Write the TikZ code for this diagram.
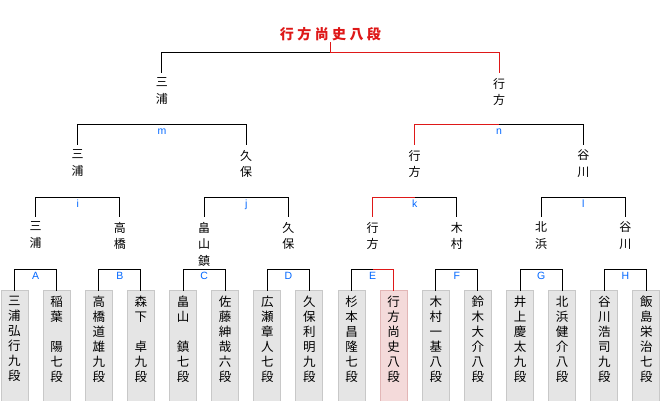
\documentclass[tikz,border=0pt]{standalone}
\usepackage{fontspec}
\setmainfont{Liberation Sans}
\newfontfamily\jp{Noto Sans CJK JP}
\usetikzlibrary{positioning, calc}

\definecolor{winred}{RGB}{222,24,24}
\definecolor{tagblue}{RGB}{0,102,255}
\definecolor{boxbg}{RGB}{229,229,229}
\definecolor{boxln}{RGB}{200,200,200}
\definecolor{pinkbg}{RGB}{244,218,218}
\definecolor{pinkln}{RGB}{226,182,182}

\begin{document}
\begin{tikzpicture}[x=1pt, y=-1pt, line width=1pt, node distance=15.13pt,
    plr/.style={draw=boxln, fill=boxbg, minimum width=27pt, inner xsep=0pt,
                inner ysep=5.5pt, outer sep=0pt, text depth=28pt,
                align=center, font=\jp\fontsize{12.5}{15}\selectfont},
    plrwin/.style={plr, draw=pinkln, fill=pinkbg},
    pname/.style={anchor=north, inner xsep=0pt, inner ysep=5.5pt, outer sep=0pt,
                  align=center, font=\jp\fontsize{12}{16.5}\selectfont},
    grp/.style={anchor=north, text=tagblue, inner xsep=1pt, inner ysep=2.5pt,
                outer sep=0pt, text height=7.5pt, text depth=2pt,
                font=\fontsize{10.5}{12}\selectfont},
    win/.style={draw=winred}]
  \useasboundingbox (0,0) rectangle (660,400);

  % players
  \node[plr, anchor=north] (p1) at (14.5,290.5) {三\\浦\\弘\\行\\九\\段};
  \node[plr, right=of p1.north east, anchor=north west] (p2) {稲\\葉\\　\\陽\\七\\段};
  \node[plr, right=of p2.north east, anchor=north west] (p3) {高\\橋\\道\\雄\\九\\段};
  \node[plr, right=of p3.north east, anchor=north west] (p4) {森\\下\\　\\卓\\九\\段};
  \node[plr, right=of p4.north east, anchor=north west] (p5) {畠\\山\\　\\鎮\\七\\段};
  \node[plr, right=of p5.north east, anchor=north west] (p6) {佐\\藤\\紳\\哉\\六\\段};
  \node[plr, right=of p6.north east, anchor=north west] (p7) {広\\瀬\\章\\人\\七\\段};
  \node[plr, right=of p7.north east, anchor=north west] (p8) {久\\保\\利\\明\\九\\段};
  \node[plr, right=of p8.north east, anchor=north west] (p9) {杉\\本\\昌\\隆\\七\\段};
  \node[plrwin, right=of p9.north east, anchor=north west] (p10) {行\\方\\尚\\史\\八\\段};
  \node[plr, right=of p10.north east, anchor=north west] (p11) {木\\村\\一\\基\\八\\段};
  \node[plr, right=of p11.north east, anchor=north west] (p12) {鈴\\木\\大\\介\\八\\段};
  \node[plr, right=of p12.north east, anchor=north west] (p13) {井\\上\\慶\\太\\九\\段};
  \node[plr, right=of p13.north east, anchor=north west] (p14) {北\\浜\\健\\介\\八\\段};
  \node[plr, right=of p14.north east, anchor=north west] (p15) {谷\\川\\浩\\司\\九\\段};
  \node[plr, right=of p15.north east, anchor=north west] (p16) {飯\\島\\栄\\治\\七\\段};

  % first round
  \node[grp] (ga) at ($(p1.north)!.5!(p2.north)+(0,-21)$) {A};
  \node[grp] (gb) at ($(p3.north)!.5!(p4.north)+(0,-21)$) {B};
  \node[grp] (gc) at ($(p5.north)!.5!(p6.north)+(0,-21)$) {C};
  \node[grp] (gd) at ($(p7.north)!.5!(p8.north)+(0,-21)$) {D};
  \node[grp] (ge) at ($(p9.north)!.5!(p10.north)+(0,-21)$) {E};
  \node[grp] (gf) at ($(p11.north)!.5!(p12.north)+(0,-21)$) {F};
  \node[grp] (gg) at ($(p13.north)!.5!(p14.north)+(0,-21)$) {G};
  \node[grp] (gh) at ($(p15.north)!.5!(p16.north)+(0,-21)$) {H};
  \draw (p1.north) |- (ga.north) -| (p2.north);
  \draw (p3.north) |- (gb.north) -| (p4.north);
  \draw (p5.north) |- (gc.north) -| (p6.north);
  \draw (p7.north) |- (gd.north) -| (p8.north);
  \draw (p9.north) |- (ge.north);
  \draw[win] (p10.north) |- (ge.north);
  \draw (p11.north) |- (gf.north) -| (p12.north);
  \draw (p13.north) |- (gg.north) -| (p14.north);
  \draw (p15.north) |- (gh.north) -| (p16.north);

  \node[pname] (q1) at ($(p1.north)!.5!(p2.north)+(0,-74)$) {三\\浦};
  \node[pname] (q2) at ($(p3.north)!.5!(p4.north)+(0,-74)$) {高\\橋};
  \node[pname] (q3) at ($(p5.north)!.5!(p6.north)+(0,-74)$) {畠\\山\\鎮};
  \node[pname] (q4) at ($(p7.north)!.5!(p8.north)+(0,-74)$) {久\\保};
  \node[pname] (q5) at ($(p9.north)!.5!(p10.north)+(0,-74)$) {行\\方};
  \node[pname] (q6) at ($(p11.north)!.5!(p12.north)+(0,-74)$) {木\\村};
  \node[pname] (q7) at ($(p13.north)!.5!(p14.north)+(0,-74)$) {北\\浜};
  \node[pname] (q8) at ($(p15.north)!.5!(p16.north)+(0,-74)$) {谷\\川};

  % quarter finals
  \node[grp] (gi) at ($(q1.north)!.5!(q2.north)+(0,-19)$) {i};
  \node[grp] (gj) at ($(q3.north)!.5!(q4.north)+(0,-19)$) {j};
  \node[grp] (gk) at ($(q5.north)!.5!(q6.north)+(0,-19)$) {k};
  \node[grp] (gl) at ($(q7.north)!.5!(q8.north)+(0,-19)$) {l};
  \draw (q1.north) |- (gi.north) -| (q2.north);
  \draw (q3.north) |- (gj.north) -| (q4.north);
  \draw[win] (q5.north) |- (gk.north);
  \draw (gk.north) -| (q6.north);
  \draw (q7.north) |- (gl.north) -| (q8.north);

  \node[pname] (s1) at ($(q1.north)!.5!(q2.north)+(0,-72)$) {三\\浦};
  \node[pname] (s2) at ($(q3.north)!.5!(q4.north)+(0,-72)$) {久\\保};
  \node[pname] (s3) at ($(q5.north)!.5!(q6.north)+(0,-72)$) {行\\方};
  \node[pname] (s4) at ($(q7.north)!.5!(q8.north)+(0,-72)$) {谷\\川};

  % semi finals
  \node[grp] (gm) at ($(s1.north)!.5!(s2.north)+(0,-20)$) {m};
  \node[grp] (gn) at ($(s3.north)!.5!(s4.north)+(0,-20)$) {n};
  \draw (s1.north) |- (gm.north) -| (s2.north);
  \draw[win] (s3.north) |- (gn.north);
  \draw (gn.north) -| (s4.north);

  \node[pname] (f1) at ($(s1.north)!.5!(s2.north)+(0,-72)$) {三\\浦};
  \node[pname] (f2) at ($(s3.north)!.5!(s4.north)+(0,-72)$) {行\\方};

  % final
  \coordinate (top) at ($(f1.north)!.5!(f2.north)+(0,-20)$);
  \node[anchor=south, text=winred, inner sep=2pt, text height=12pt, text depth=0pt,
        font=\jp\bfseries\fontsize{14}{16}\selectfont] (champ) at ($(top)+(0,-11)$)
        {行\hspace{3.4pt}方\hspace{3.4pt}尚\hspace{3.4pt}史\hspace{3.4pt}八\hspace{3.4pt}段};
  \draw (f1.north) |- (top);
  \draw[win] (f2.north) |- (top) -- (champ.south);
\end{tikzpicture}
\end{document}
